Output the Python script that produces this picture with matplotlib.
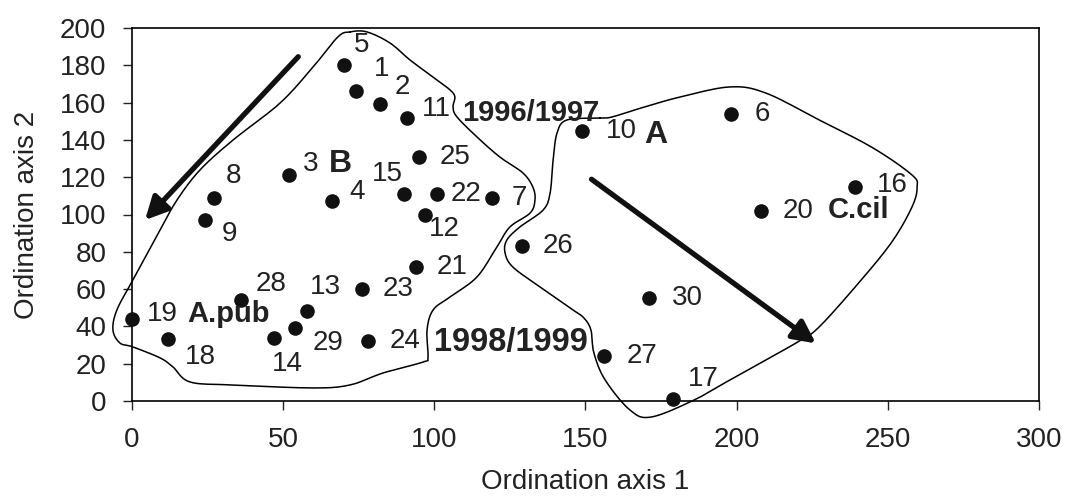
import numpy as np
import matplotlib.pyplot as plt

plt.rcParams['font.family'] = ['Liberation Sans', 'DejaVu Sans']

# sample scores on the two ordination axes
sample_ids = [str(i) for i in range(1, 31)]
axis1 = [74, 82, 52, 66, 70, 198, 119, 27, 24, 149,
         91, 97, 58, 47, 90, 239, 179, 12, 0, 208,
         94, 101, 76, 78, 95, 129, 156, 36, 54, 171]
axis2 = [166, 159, 121, 107, 180, 154, 109, 109, 97, 145,
         152, 100, 48, 34, 111, 115, 1, 33, 44, 102,
         72, 111, 60, 32, 131, 83, 24, 54, 39, 55]

# label offsets in pixels (dx, dy) from each dot
label_offsets = [(18, 22), (15, 17), (14, 11), (18, 9), (10, 20), (24, 0),
                 (20, 0), (12, 22), (17, -14), (23, 0), (15, 9), (4, -15),
                 (3, 24), (-2, -26), (-32, 20), (22, 2), (15, 20), (17, -18),
                 (15, 5), (22, 0), (20, 0), (13, 0), (21, 0), (22, 0),
                 (20, 0), (21, 0), (23, 0), (15, 16), (17, -15), (23, 0)]

# outlines of the two groups (ordination units)
group_b_x = [72.1, 77.7, 85.3, 92.0, 99.6, 105.2, 106.8, 106.2, 107.5, 114.1,
             121.7, 129.3, 132.6, 133.3, 131.7, 125.0, 120.7, 114.1, 105.2, 99.6,
             97.6, 97.9, 96.3, 83.0, 72.1, 59.9, 33.4, 19.2, 13.6, 9.3,
             0.3, -4.0, -6.3, -5.0, 0.3, 9.3, 14.9, 22.5, 33.4, 49.0,
             59.9, 68.1]
group_b_y = [197.9, 197.9, 192.0, 182.8, 173.7, 166.8, 163.0, 157.6, 152.3, 141.6,
             130.8, 122.3, 114.7, 107.8, 100.8, 93.3, 82.6, 66.5, 55.8, 48.8,
             38.1, 23.6, 20.9, 15.0, 8.6, 7.0, 8.6, 10.2, 18.2, 23.1,
             29.0, 31.1, 38.1, 48.8, 64.9, 91.7, 107.8, 123.9, 139.9, 159.8,
             179.1, 195.2]
group_a_x = [154.8, 158.8, 168.4, 181.3, 197.8, 209.7, 227.3, 245.1, 258.0, 259.7,
             258.0, 251.1, 239.2, 227.3, 221.3, 209.7, 197.8, 185.9, 171.7, 164.7,
             156.5, 152.8, 151.8, 149.5, 145.9, 135.0, 126.0, 123.4, 124.0, 128.3,
             136.0, 138.3, 139.3, 140.6, 143.9]
group_a_y = [151.7, 152.3, 157.1, 163.0, 168.4, 165.1, 150.7, 135.7, 121.2, 114.7,
             104.0, 84.7, 61.1, 39.7, 32.7, 22.0, 11.3, 0.5, -8.6, -4.8,
             11.3, 25.7, 38.1, 44.5, 48.8, 61.1, 71.8, 79.4, 86.3, 93.3,
             102.4, 111.5, 129.2, 143.7, 150.7]

# trend arrows (start, end)
arrow_left = [(55, 184.6), (4.3, 97)]
arrow_right = [(152, 118.9), (226.2, 30.9)]

# bold annotations: text, anchor sample, offset px, size, alignment
group_labels = [('1996/1997', 11, (55, 5), 21, 'left'),
                ('1998/1999', 24, (66, -1), 23.5, 'left'),
                ('A.pub', 19, (55, 5), 21, 'left'),
                ('C.cil', 20, (67, 1), 21, 'left'),
                ('A', 10, (73, -4), 23, 'center'),
                ('B', 3, (51, 11), 23, 'center')]


def smooth_outline(xs, ys, n=10):
    # closed Catmull-Rom curve through the traced outline points
    p = np.column_stack([xs, ys])
    m = len(p)
    out = []
    for i in range(m):
        p0, p1, p2, p3 = p[i - 1], p[i], p[(i + 1) % m], p[(i + 2) % m]
        for t in np.linspace(0, 1, n, endpoint=False):
            out.append(0.5 * (2 * p1 + (p2 - p0) * t
                              + (2 * p0 - 5 * p1 + 4 * p2 - p3) * t ** 2
                              + (3 * p1 - p0 - 3 * p2 + p3) * t ** 3))
    out.append(out[0])
    out = np.array(out)
    return out[:, 0], out[:, 1]


fig = plt.figure(figsize=(10.67, 5), dpi=100)
ax = fig.add_axes([0.1237, 0.198, 0.85, 0.746])

for gx, gy in [(group_b_x, group_b_y), (group_a_x, group_a_y)]:
    sx, sy = smooth_outline(gx, gy)
    ax.plot(sx, sy, color='black', lw=1.1, clip_on=False)

ax.scatter(axis1, axis2, s=90, color='#111111', zorder=3, clip_on=False)

for i, lab in enumerate(sample_ids):
    ax.annotate(lab, (axis1[i], axis2[i]), xytext=label_offsets[i],
                textcoords='offset pixels', ha='left', va='center',
                fontsize=20, color='#222222')

for txt, idx, off, size, ha in group_labels:
    ax.annotate(txt, (axis1[idx - 1], axis2[idx - 1]), xytext=off,
                textcoords='offset pixels', ha=ha, va='center',
                fontsize=size, fontweight='bold', color='#222222')

for start, end in [arrow_left, arrow_right]:
    ax.annotate('', xy=end, xytext=start,
                arrowprops=dict(arrowstyle='-|>', lw=3.8, color='#111111',
                                mutation_scale=34, shrinkA=0, shrinkB=0))

ax.set_xlim(0, 300)
ax.set_ylim(0, 200)
ax.set_xticks(range(0, 301, 50))
ax.set_yticks(range(0, 201, 20))
ax.tick_params(direction='out', length=6.5, width=1, labelsize=20, pad=12, colors='#222222')
for s in ax.spines.values():
    s.set_linewidth(1.2)

ax.set_xlabel('Ordination axis 1', fontsize=20, labelpad=12, color='#222222')
ax.set_ylabel('Ordination axis 2', fontsize=20, labelpad=14, color='#222222')

plt.savefig('out.png', dpi=100)
